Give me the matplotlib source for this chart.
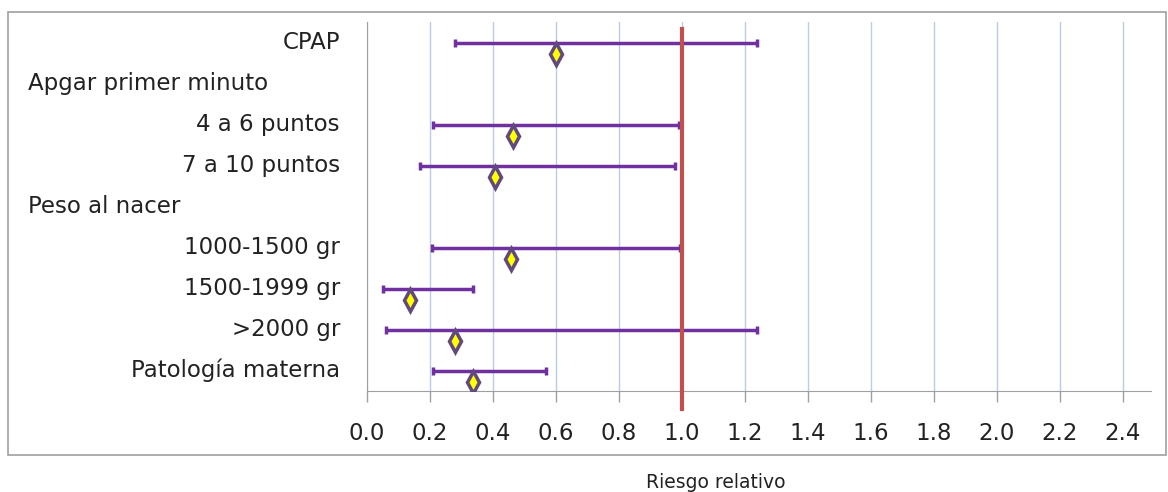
import matplotlib.pyplot as plt
import matplotlib.transforms as transforms
import matplotlib.patches as patches

# forest plot data (relative risk with confidence interval)
labels = ['CPAP', 'Apgar primer minuto', '4 a 6 puntos', '7 a 10 puntos',
          'Peso al nacer', '1000-1500 gr', '1500-1999 gr', '>2000 gr',
          'Patología materna']
is_header = [False, True, False, False, True, False, False, False, False]
rr = [0.60, None, 0.463, 0.407, None, 0.456, 0.138, 0.278, 0.338]
ci_low = [0.28, None, 0.21, 0.168, None, 0.207, 0.052, 0.061, 0.211]
ci_high = [1.239, None, 0.99, 0.978, None, 0.993, 0.338, 1.239, 0.570]
ref_value = 1.0
x_ticks = [0.0, 0.2, 0.4, 0.6, 0.8, 1.0, 1.2, 1.4, 1.6, 1.8, 2.0, 2.2, 2.4]

plt.rcParams['font.family'] = ['DejaVu Sans']

fig = plt.figure(figsize=(11.68, 4.92), dpi=100)
ax = fig.add_axes([367 / 1168, 1 - 391 / 492, 784 / 1168, 369 / 492])

# outer chart border
fig.patches.append(patches.Rectangle((8 / 1168, 1 - 455 / 492), 1158 / 1168, 443 / 492,
                                     transform=fig.transFigure, fill=False,
                                     edgecolor='#a0a0a0', linewidth=1.2))

rows = list(range(len(labels)))
for r in rows:
    if rr[r] is None:
        continue
    # confidence interval
    ax.errorbar([(ci_low[r] + ci_high[r]) / 2], [r],
                xerr=[[(ci_high[r] - ci_low[r]) / 2], [(ci_high[r] - ci_low[r]) / 2]],
                fmt='none', ecolor='#7030a0', elinewidth=2.5, capsize=3, capthick=2.5,
                zorder=3)
    # point estimate, drawn a bit below the line
    ax.plot(rr[r], r + 0.28, marker='d', markersize=11, markerfacecolor='#ffff00',
            markeredgecolor='#604a7b', markeredgewidth=2.5, linestyle='none', zorder=4)

# reference line at RR = 1
ax.plot([ref_value, ref_value], [-0.32, 8.95], color='#c0504d', linewidth=3,
        clip_on=False, zorder=5)

ax.set_xlim(0, 2.49)
ax.set_ylim(8.5, -0.5)
ax.set_xticks(x_ticks)
ax.set_xticklabels([f'{t:.1f}' for t in x_ticks], fontsize=16.5, color='#222222')
ax.set_yticks([])
ax.tick_params(axis='x', length=8, width=1, color='#a0a0a0', pad=14)
ax.grid(axis='x', color='#b9cde5', linewidth=1)
ax.set_axisbelow(True)

for side in ['top', 'right']:
    ax.spines[side].set_visible(False)
for side in ['left', 'bottom']:
    ax.spines[side].set_color('#a0a0a0')

# category labels
trans = transforms.blended_transform_factory(fig.transFigure, ax.transData)
for r in rows:
    if is_header[r]:
        ax.text(28 / 1168, r, labels[r], transform=trans, ha='left', va='center',
                fontsize=16.5, color='#222222')
    else:
        ax.text(340 / 1168, r, labels[r], transform=trans, ha='right', va='center',
                fontsize=16.5, color='#222222')

fig.text(716 / 1168, 1 - 483 / 492, 'Riesgo relativo', ha='center', va='center',
         fontsize=13.5, color='#222222')

fig.savefig('out.png', dpi=100)
